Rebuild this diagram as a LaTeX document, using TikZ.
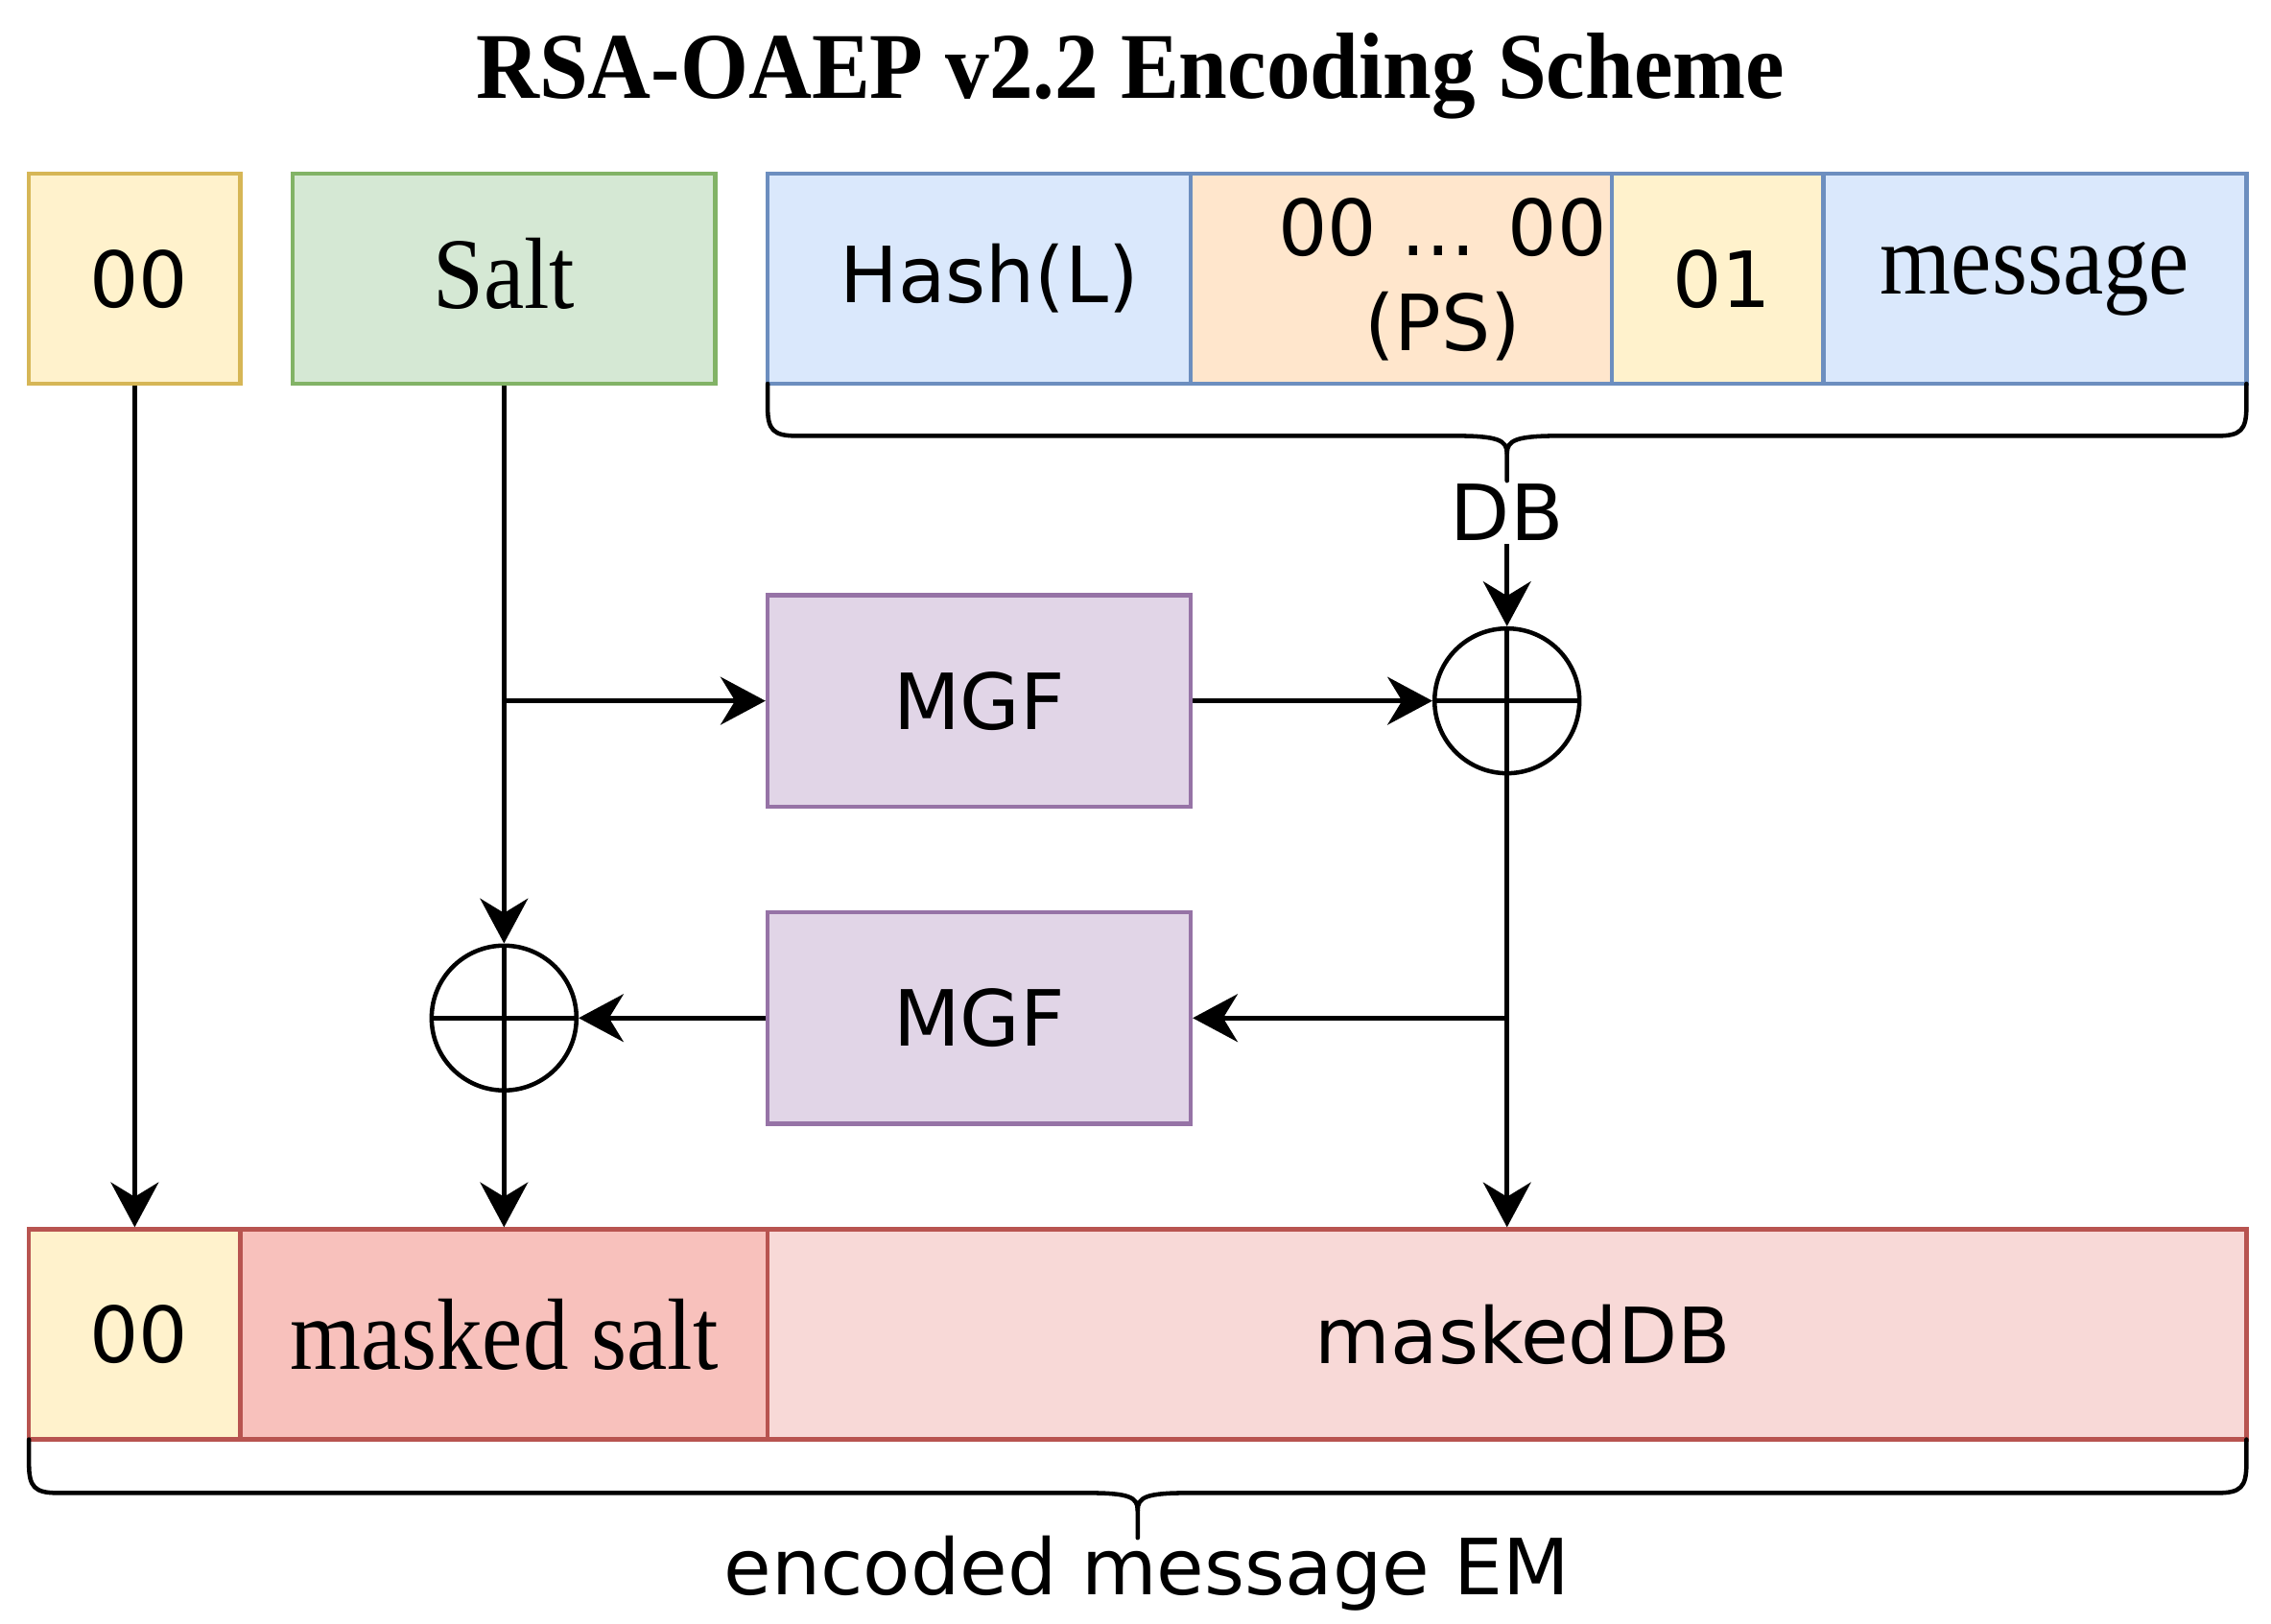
\documentclass[tikz,border=0pt]{standalone}
\usepackage{fontspec}
\setmainfont{Liberation Serif}
\newfontfamily\dejavu{DejaVu Sans}
\newfontfamily\serifnarrow[FakeStretch=0.9]{Liberation Serif}
\newfontfamily\titlenarrow[FakeStretch=0.93]{Liberation Serif Bold}
\usetikzlibrary{arrows.meta}

\definecolor{padfill}{HTML}{FFF2CC}
\definecolor{padline}{HTML}{D6B656}
\definecolor{saltfill}{HTML}{D5E8D4}
\definecolor{saltline}{HTML}{82B366}
\definecolor{dbfill}{HTML}{DAE8FC}
\definecolor{dbline}{HTML}{6C8EBF}
\definecolor{psfill}{HTML}{FFE6CC}
\definecolor{mgffill}{HTML}{E1D5E7}
\definecolor{mgfline}{HTML}{9673A6}
\definecolor{emfill}{HTML}{F8C1BC}
\definecolor{emline}{HTML}{B85450}
\definecolor{mdbfill}{HTML}{F8D9D7}

\newcommand{\sanstext}{\dejavu\fontsize{26.75pt}{32.5pt}\selectfont}
\newcommand{\seriftext}{\serifnarrow\fontsize{35pt}{40pt}\selectfont}
\newcommand{\titletext}{\titlenarrow\fontsize{32.5pt}{38pt}\selectfont}

\tikzset{
  cell/.style={draw, line width=1.5pt, inner sep=0pt, minimum height=72.5pt, font=\sanstext},
  padcell/.style={cell, fill=padfill, draw=padline},
  saltcell/.style={cell, fill=saltfill, draw=saltline, font=\seriftext},
  dbcell/.style={cell, fill=dbfill, draw=dbline},
  mgfbox/.style={cell, fill=mgffill, draw=mgfline, minimum width=146pt, minimum height=73pt},
  emcell/.style={cell, fill=emfill, draw=emline},
  xorop/.style={circle, draw, line width=1.5pt, minimum size=50pt, inner sep=0pt,
    path picture={\draw[line width=1.5pt] (path picture bounding box.north) -- (path picture bounding box.south)
      (path picture bounding box.west) -- (path picture bounding box.east);}},
  arr/.style={line width=1.6pt, -{Stealth[length=15.5pt, width=16.5pt, inset=5pt]}},
  bracket/.style={line width=1.5pt, line cap=round}
}

\begin{document}
\begin{tikzpicture}[x=0.5pt, y=-0.5pt]
	\useasboundingbox (0,0) rectangle (1568,1121);
	\node[font=\titletext, anchor=base] (title) at (780.5,68) {RSA-OAEP v2.2 Encoding Scheme};
	% top row
	\node[padcell, minimum width=73pt] (pad) at (93,192.5) {\hspace{3pt}00};
	\node[saltcell, minimum width=146pt] (salt) at (348,192.5) {\raisebox{3.5pt}{Salt}};
	\node[dbcell, minimum width=146pt] (hash) at (676,192.5) {\hspace{7pt}Hash(L)};
	\node[dbcell, fill=psfill, minimum width=145.5pt] (ps) at (967.5,192.5) {};
	\node[font=\sanstext, align=center, inner sep=0pt] (pstext) at (996,193) {00 ... 00\\(PS)};
	\node[dbcell, fill=padfill, minimum width=73pt] (one) at (1186,192.5) {\hspace{3pt}01};
	\node[dbcell, font=\seriftext, minimum width=146pt] (msg) at (1405,192.5) {message};
	% DB brace
	\draw[bracket] (530,265) -- (530,281) .. controls (530,297) and (534,301) .. (550,301) -- (1005,301)
		.. controls (1034,301) and (1040.5,304) .. (1040.5,313) -- (1040.5,332);
	\draw[bracket] (1040.5,313) .. controls (1040.5,304) and (1047,301) .. (1076,301) -- (1531,301)
		.. controls (1547,301) and (1551,297) .. (1551,281) -- (1551,265);
	\node[font=\sanstext, inner sep=1pt] (db) at (1040.5,354) {DB};
	% masking
	\node[mgfbox] (mgfa) at (676,484) {MGF};
	\node[mgfbox] (mgfb) at (676,703) {MGF};
	\node[xorop] (xora) at (1040.5,484) {};
	\node[xorop] (xorb) at (348,703) {};
	% bottom row
	\node[emcell, fill=padfill, minimum width=73pt] (padout) at (93,921.5) {\hspace{3pt}00};
	\node[emcell, font=\seriftext, minimum width=182pt] (msalt) at (348,921.5) {masked salt};
	\node[emcell, fill=mdbfill, minimum width=510.5pt] (mdb) at (1040.5,921.5) {\hspace{11pt}maskedDB};
	% EM brace
	\draw[bracket] (20,994) -- (20,1011) .. controls (20,1027) and (24,1031) .. (40,1031) -- (751,1031)
		.. controls (780,1031) and (785.5,1034) .. (785.5,1043) -- (785.5,1062);
	\draw[bracket] (785.5,1043) .. controls (785.5,1034) and (791,1031) .. (820,1031) -- (1531,1031)
		.. controls (1547,1031) and (1551,1027) .. (1551,1011) -- (1551,994);
	\node[font=\sanstext, anchor=base] (em) at (792,1101.5) {encoded message EM};
	% arrows
	\draw[arr] (pad.south) -- (padout.north);
	\draw[arr] (salt.south) -- (xorb.north);
	\draw[arr] (salt.south |- mgfa.west) -- (mgfa.west);
	\draw[arr] (mgfa.east) -- (xora.west);
	\draw[arr] (db.south) -- (xora.north);
	\draw[arr] (xora.south) -- (mdb.north);
	\draw[arr] (xora.south |- mgfb.east) -- (mgfb.east);
	\draw[arr] (mgfb.west) -- (xorb.east);
	\draw[arr] (xorb.south) -- (msalt.north);
\end{tikzpicture}
\end{document}
